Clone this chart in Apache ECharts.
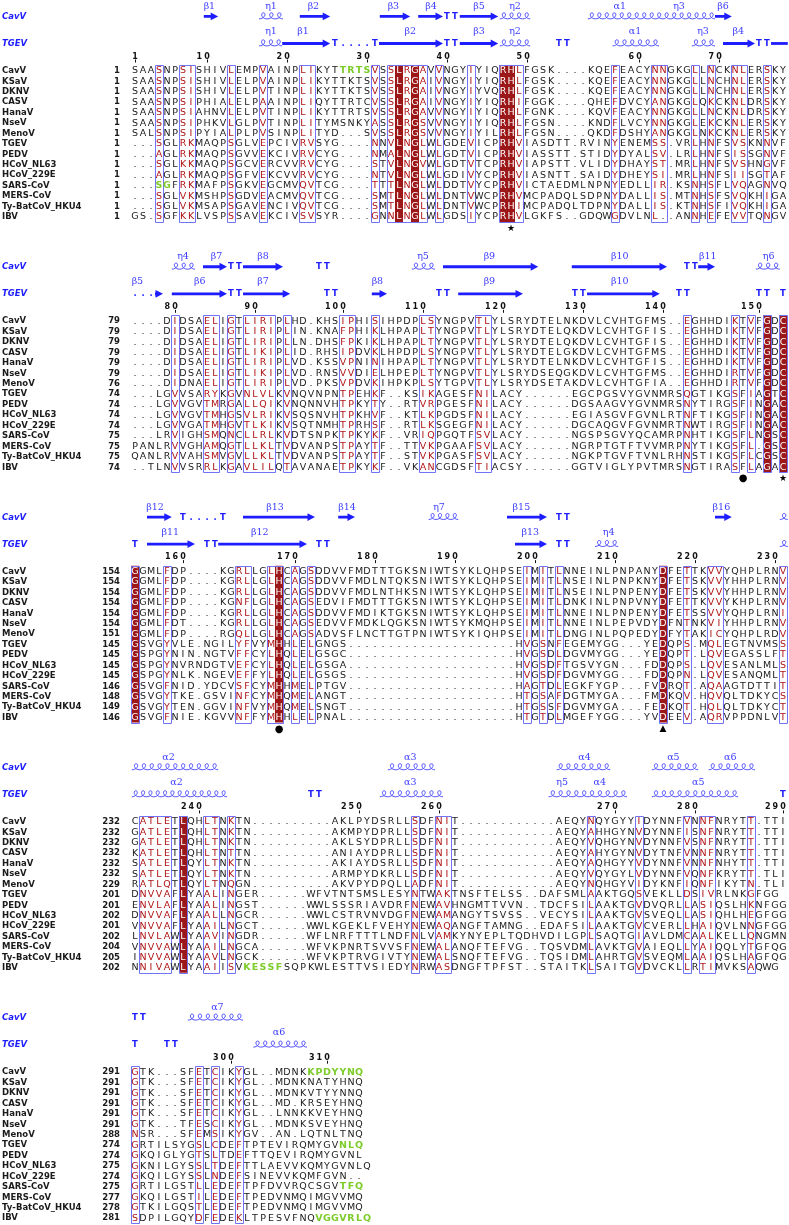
<!DOCTYPE html>
<html><head><meta charset="utf-8">
<script src="https://cdn.jsdelivr.net/npm/echarts@6/dist/echarts.min.js"></script>
<style>html,body{margin:0;padding:0;background:#fff}#c{width:789px;height:1225px}</style>
</head><body><div id="c"></div>
<script>
// ---------------- DATA ----------------
const seqNames = ["CavV","KSaV","DKNV","CASV","HanaV","NseV","MenoV","TGEV","PEDV","HCoV_NL63","HCoV_229E","SARS-CoV","MERS-CoV","Ty-BatCoV_HKU4","IBV"];

const block1Start = [1,1,1,1,1,1,1,1,1,1,1,1,1,1,1];
const block1Seq = [
"SAASNPSISHIVLEMPVAINPLIKYTTRTSVSSLRGAVVNGYIYIQRHLFGSK....KQEFEACYNNGKGLLNCKNLERSKY",
"SAASNPSISHIVLELPVAINPLIKYTTKTSVSSLRGAIVNGYIYIQRHLFGSK....KQEFEACYNNGKGLLNCHNLERSKY",
"SAASNPSISHIVLELPVTINPLIKYTTKTSVSSLRGAIVNGYIYVQRHLFGSK....KQEFEACYNNGKGLLNCHNLERSKY",
"SAASNPSIPHIALELPAAINPLIQYTTRTCVSSLRGAIVNGYIYIQRHIFGGK....QHEFDVCYANGKGLQKCKNLDRSKY",
"SAASNPSIAHNVLELPVTINPLIKYTTRTSVSSLRGAVVNGYIYIQRHLFGNK....KQVFEACYNNGKGLLNCKNLDRSKY",
"SAASNPSIPHKVLGLPVTINPLITYMSNKYASSLRGSVVNGYIYIQRHLFGSN....KNDFLVCYNNGKGLEKCKNLERSKY",
"SALSNPSIPYIALPLPVSINPLITYD...SVSSLRGSVVNGYIYILRHLFGSN....QKDFDSHYANGKGLNKCKNLERSKY",
"...SGLRKMAQPSGLVEPCIVRVSYG....NNVLNGLWLGDEVICPRHVIASDTT.RVINYENEMSS.VRLHNFSVSKNNVF",
"...AGLRKMAQPSGVVEKCIVRVCYG....NMALNGLWLGDTVICPRHVIASSTT.STIDYDYALSV.LRLHNFSISSGNVF",
"...SGLKKMAQPSGCVERCVVRVCYG....STVLNGVWLGDTVTCPRHVIAPSTT.VLIDYDHAYST.MRLHNFSVSHNGVF",
"...AGLRKMAQPSGFVEKCVVRVCYG....NTVLNGLWLGDIVYCPRHVIASNTT.SAIDYDHEYSI.MRLHNFSIISGTAF",
"...SGFRKMAFPSGKVEGCMVQVTCG....TTTLNGLWLDDTVYCPRHVICTAEDMLNPNYEDLLIR.KSNHSFLVQAGNVQ",
"...SGLVKMSHPSGDVEACMVQVTCG....SMTLNGLWLDNTVWCPRHVMCPADQLSDPNYDALLIS.MTNHSFSVQKHIGA",
"...SGLVKMSAPSGAVENCIVQVTCG....SMTLNGLWLDNTVWCPRHIMCPADQLTDPNYDALLIS.KTNHSFIVQKHIGA",
"GS.SGFKKLVSPSSAVEKCIVSVSYR....GNNLNGLWLGDSIYCPRHVLGKFS..GDQWGDVLNL..ANNHEFEVVTQNGV"
];
const block1Ident = [34,36,47,48];
const block1Boxes = [[4,4],[7,8],[13,13],[17,17],[22,23],[31,31],[33,37],[39,39],[43,43],[47,49],[61,61],[66,67],[71,71],[73,73],[76,77],[80,80]];
const block1Ruler = [[1,1],[10,10],[20,20],[30,30],[40,40],[50,50],[64,60],[74,70]];

const block2Start = [79,79,79,79,79,79,76,74,74,74,74,75,75,75,74];
const block2Seq = [
"....DIDSAELIGTLIRIPLHD.KHSIPHISIHPDPLSYNGPVTLYLSRYDTELNKDVLCVHTGFMS..EGHHDIKTVFGDC",
"....DIDSAELIGTLIRIPLIN.KNAFPHIKLHPAPLTYNGPVTLYLSRYDTELQKDVLCVHTGFIS..EGHHDIKTVFGDC",
"....DIDSAELIGTLIRIPLLN.DHSFPKIKLHPAPLTYNGPVTLYLSRYDTELQKDVLCVHTGFIS..EGHHDIKTVFGDC",
"....DIDSAELIGTLIKIPLID.RHSIPDVKLHPDPLSYNGPVTLYLSRYDTELGKDVLCVHTGFMS..EGHHDIKTVFGDC",
"....DIDSAELIGTLIRIPLVD.KSSVPNINIHPAPLTYNGPVTLYLSRYDTELNKDVLCVHTGFIS..EGHHDIKTVFGDC",
"....DIDSAELIGTLIKIPLVD.RNSVVDIELHPEPLTYNGPVTLYLSRYDSEQGKDVLCVHTGFMS..EGHHDIRTVFGDC",
"....DIDNAELIGTLIRIPLVD.PKSVPDVKIHPKPLSYTGPVTLYLSRYDSETAKDVLCVHTGFIA..EGHHDIRTVFGDC",
"...LGVVSARYKGVNLVLKVNQVNPNTPEHKF..KSIKAGESFNILACY......EGCPGSVYGVNMRSQGTIKGSFIAGTC",
"...LGVVGVTMRGALLQIKVNQNNVHTPKYTY..RTVRPGESFNILACY......DGSAAGVYGVNMRSNYTIRGSFINGAC",
"...LGVVGVTMHGSVLRIKVSQSNVHTPKHVF..KTLKPGDSFNILACY......EGIASGVFGVNLRTNFTIKGSFINGAC",
"...LGVVGATMHGVTLKIKVSQTNMHTPRHSF..RTLKSGEGFNILACY......DGCAQGVFGVNMRTNWTIRGSFINGAC",
"...LRVIGHSMQNCLLRLKVDTSNPKTPKYKF..VRIQPGQTFSVLACY......NGSPSGVYQCAMRPNHTIKGSFLNGSC",
"PANLRVVGHAMQGTLLKLTVDVANPSTPAYTF..TTVKPGAAFSVLACY......NGRPTGTFTVVMRPNYTIKGSFL.GSC",
"QANLRVVAHSMVGVLLKLTVDVANPSTPAYTF..STVKPGASFSVLACY......NGKPTGVFTVNLRHNSTIKGSFLCGSC",
"..TLNVVSRRLKGAVLILQTAVANAETPKYKF..VKANCGDSFTIACSY......GGTVIGLYPVTMRSNGTIRASFLAGAC"
];
const block2Ident = [80,82];
const block2Boxes = [[6,6],[10,11],[13,13],[15,18],[20,20],[27,28],[31,31],[37,38],[44,45],[70,70],[76,76],[78,78],[80,80],[82,82]];
const block2Ruler = [[6,80],[16,90],[27,100],[37,110],[47,120],[57,130],[67,140],[79,150]];

const block3Start = [154,154,154,154,154,154,151,145,145,145,145,146,148,149,146];
const block3Seq = [
"GGMLFDP....KGRLLGLHCAGSDDVVFMDTTTGKSNIWTSYKLQHPSEIMITLNNEINLPNPANYDFETTKVVYQHPLRNV",
"GGMLFDP....KGRLLGLHCAGSDDVVFMDLNTQKSNIWTSYKLQHPSEIMITLNSEINLPNPKNYDFETSKVVYHHPLRNV",
"GGMLFDP....KGRLLGLHCAGSDDVVFMDLNTHKSNIWTSYKLQHPSEIMITLNSEINLPNPENYDFETSKVVYHHPLRNV",
"GGMLFDP....KGNFLGLHCAGSEDVIFMDTTTGKSNIWTSYKLQHPSEIMITLDNKINLPNPVNYDFETTKVVYKHPLRNV",
"GGMLFDP....KGRLLGLHCAGSDDVVFMDIKTGKSNIWTSYKLQHPSEIMITLNNEINLPNPENYDFETSSVVYQHPLRNI",
"GGMLFDT....KGRLLGLHCAGSEDVVFMDKLQGKSNIWTSYKMQHPSEIMITLNNEINLPEPVDYDFNTNKVIYHHPLRNV",
"GGMLFDP....RGQLLGLHCAGSADVSFLNCTTGTPNIWTSYKIQHPSEIMITLDNGINLPQPEDYDFYTAKICYQHPLRDV",
"GSVGYVLE.NGILYFVYMHHLELGNGS.....................HVGSNFEGEMYGG...YEDQPS.MQLEGTNVMSS",
"GSPGYNIN.NGTVFFCYLHQLELGSGC.....................HVGSDLDGVMYGG...YEDQPT.LQVEGASSLFT",
"GSPGYNVRNDGTVEFCYLHQLELGSGA.....................HVGSDFTGSVYGN...FDDQPS.LQVESANLMLS",
"GSPGYNLK.NGEVEFFYLHQLELGSGS.....................HVGSDFDGVMYGG...FDDQPN.LQVESANQMLT",
"GSVGFNID.YDCVSFCYMHHMELPTGV.....................HAGTDLEGKFYGP...FVDRQT.AQAAGTDTTIT",
"GSVGYTKE.GSVINFCYMHQMELANGT.....................HTGSAFDGTMYGA...FMDKQV.HQVQLTDKYCS",
"GSVGYTEN.GGVINFVYMHQMELSNGT.....................HTGSSFDGVMYGA...FEDKQT.HQLQLTDKYCT",
"GSVGFNIE.KGVVNFFYMHHLELPNAL.....................HTGTDLMGEFYGG...YVDEEV.AQRVPPDNLVT"
];
const block3Ident = [1,19,67];
const block3Boxes = [[1,1],[5,5],[14,15],[18,19],[21,21],[23,23],[50,50],[52,52],[54,54],[67,67],[70,70],[73,74],[82,82]];
const block3Ruler = [[7,160],[21,170],[31,180],[41,190],[51,200],[61,210],[71,220],[81,230]];

const block4Start = [232,232,232,232,232,232,229,201,201,202,201,202,204,205,202];
const block4Seq = [
"CATLETLQHLTNKTN..........AKLPYDSRLLSDFNIT............AEQYNQYGYYIDYNNFVNNFNRYTT.TTI",
"GATLETLQHLTNKTN..........AKMPYDPRLLSDFNIT............AEQYAHHGYNVDYNNFISNFNRYTT.TTI",
"GATLETLQHLTNKTN..........AKLSYDPRLLSDFNIT............AEQYVQHGYNVDYNNFVSNFNRYTT.TTI",
"KATLETLQHLTNTTN..........ANIAYDPRLLSDFNIT............AEQYAHYGYNVDYTNFVNNFNRYTT.TTI",
"SATLETLQYLTNKTN..........AKIAYDSRLLSDFNIT............AEQYAQHGYYVDYNNFVNNFNHYTT.TTI",
"SATLETLQYLTNKTN..........ARMPYDKRLLSDFNIT............AEQYVQYGYLVDYNNFVQNFKRYTT.TLI",
"RATLQTLQYLTNQGN..........AKVPYDPQLLADFNIT............AEQYNQHGYVIDYKNFIQNFIKYTN.TLI",
"DNVVAFLYAALINGER......WFVTNTSMSLESYNTWAKTNSFTELSS..DAFSMLAAKTGQSVEKLLDSIVRLNKGFGG",
"ENVLAFLYAALINGST......WWLSSSRIAVDRFNEWAVHNGMTTVVN..TDCFSILAAKTGVDVQRLLASIQSLHKNFGG",
"DNVVAFLYAALLNGCR......WWLCSTRVNVDGFNEWAMANGYTSVSS..VECYSILAAKTGVSVEQLLASIQHLHEGFGG",
"VNVVAFLYAAILNGCT......WWLKGEKLFVEHYNEWAQANGFTAMNG..EDAFSILAAKTGVCVERLLHAIQVLNNGFGG",
"LNVLAWLYAAVINGDR......WFLNRFTTTLNDFNLVAMKYNYEPLTQDHVDILGPLSAQTGIAVLDMCAALKELLQNGMN",
"VNVVAWLYAAILNGCA......WFVKPNRTSVVSFNEWALANQFTEFVG..TQSVDMLAVKTGVAIEQLLYAIQQLYTGFQG",
"INVVAWLYAAVLNGCK......WFVKPTRVGIVTYNEWALSNQFTEFVG..TQSIDMLAHRTGVSVEQMLAAIQSLHAGFQG",
"NNIVAWLYAAIISVKESSFSQPKWLESTTVSIEDYNRWASDNGFTPFST..STAITKLSAITGVDVCKLLRTIMVKSAQWG"
];
const block4Ident = [7];
const block4Boxes = [[2,5],[7,7],[10,11],[13,13],[36,36],[39,40],[58,58],[64,64],[70,70],[72,73],[78,78]];
const block4Ruler = [[9,240],[29,250],[39,260],[61,270],[71,280],[82,290]];

const block5Start = [291,291,291,291,291,291,288,274,274,275,274,275,277,278,281];
const block5Seq = [
"GTK...SFETCIKYGL..MDNKKPDYYNQ",
"GTK...SFETCIKYGL..MDNKNATYHNQ",
"GTK...SFETCIKYGL..MDNKVTYYNNQ",
"GTK...SFETCIKYGL..MD.KRSEYHNQ",
"GTK...SFETCIKYGL..LNNKKVEYHNQ",
"GTK...TFESCIKYGL..MDNKSVEYHNQ",
"NSR...SFEMSIKYGV..AN.LQTNLTNQ",
"GRTILSYGSLCDEFTPTEVIRQMYGVNLQ",
"GKQIGLYGTSLTDEFTTQEVIRQMYGVNL",
"GKNILGYSSLTDEFTTLAEVVKQMYGVNLQ",
"GKQILGYSSLNDEFSINEVVKQMFGVN..",
"GRTILGSTLLEDEFTPFDVVRQCSGVTFQ",
"GKQILGSTILEDEFTPEDVNMQIMGVVMQ",
"GTKILGQSTLEDEFTPEDVNMQIMGVVMQ",
"SDPILGQYDFEDEKLTPESVFNQVGGVRLQ"
];
const block5Ident = [];
const block5Boxes = [[1,1],[9,9],[11,11],[14,14]];
const block5Ruler = [[13,300],[25,310]];

// green residues: [block, row, firstCol, lastCol]
const greenRuns = [[0,0,27,30],[0,11,4,5],[3,14,15,19],[4,0,23,29],[4,7,27,29],[4,11,27,29],[4,14,24,30]];

// secondary structure (line 0 = CavV, line 1 = TGEV), positions in alignment columns
const ssArrows = [
 [0,0,9.6,11.4,1],[0,0,21.6,25.4,1],[0,0,31.6,35.4,1],[0,0,36.4,39.5,1],[0,0,41.6,46.4,1],[0,0,73.5,75.6,1],
 [0,1,19.4,25.4,1],[0,1,31.5,39.5,1],[0,1,41.6,46.4,1],[0,1,74.5,78.5,1],[0,1,80.5,82.6,0],
 [1,0,9.5,12.5,1],[1,0,14.5,19.5,1],[1,0,39.5,51.4,1],[1,0,55.6,67.5,1],[1,0,71.4,73.5,1],
 [1,1,3.5,4.5,1],[1,1,5.6,12.5,1],[1,1,14.5,20.4,1],[1,1,30.6,32.5,1],[1,1,41.4,49.5,1],[1,1,57.5,66.6,1],
 [2,0,2.5,5.6,1],[2,0,14.5,23.5,1],[2,0,26.4,28.5,1],[2,0,47.5,52.5,1],[2,0,73.5,75.6,1],
 [2,1,2.5,8.5,1],[2,1,11.4,22.5,1],[2,1,48.5,52.5,1]
];
const ssCoils = [
 [0,0,16.5,19.5],[0,0,46.6,50.4],[0,0,57.6,73.5],
 [0,1,16.5,19.4],[0,1,46.6,50.4],[0,1,60.7,66.5],[0,1,70.6,73.5],
 [1,0,5.6,8.5],[1,0,35.6,38.5],[1,0,78.6,81.6],
 [2,0,37.7,41.4],[2,0,81.6,82.6],[2,1,58.5,61.4],[2,1,81.6,82.6],
 [3,0,0.6,11.4],[3,0,32.6,38.5],[3,0,53.7,60.4],[3,0,65.6,71.4],[3,0,72.7,78.5],
 [3,1,0.6,12.5],[3,1,31.6,39.5],[3,1,52.7,62.5],[3,1,65.6,76.4],
 [4,0,7.6,14.5],[4,1,15.8,22.5]
];
const ssTurns = [
 [0,0,40,"T"],[0,0,41,"T"],
 [0,1,26,"T"],[0,1,27,"."],[0,1,28,"."],[0,1,29,"."],[0,1,30,"."],[0,1,31,"T"],[0,1,40,"T"],[0,1,41,"T"],[0,1,54,"T"],[0,1,55,"T"],[0,1,79,"T"],[0,1,80,"T"],
 [1,0,13,"T"],[1,0,14,"T"],[1,0,24,"T"],[1,0,25,"T"],[1,0,70,"T"],[1,0,71,"T"],
 [1,1,1,"."],[1,1,2,"."],[1,1,3,"."],[1,1,13,"T"],[1,1,14,"T"],[1,1,25,"T"],[1,1,26,"T"],[1,1,39,"T"],[1,1,40,"T"],[1,1,56,"T"],[1,1,57,"T"],[1,1,69,"T"],[1,1,70,"T"],[1,1,79,"T"],[1,1,80,"T"],[1,1,82,"T"],
 [2,0,7,"T"],[2,0,8,"."],[2,0,9,"."],[2,0,10,"."],[2,0,11,"."],[2,0,12,"T"],[2,0,54,"T"],[2,0,55,"T"],
 [2,1,1,"T"],[2,1,10,"T"],[2,1,11,"T"],[2,1,24,"T"],[2,1,25,"T"],[2,1,54,"T"],[2,1,55,"T"],
 [3,1,23,"T"],[3,1,24,"T"],[3,1,82,"T"],
 [4,0,1,"T"],[4,0,2,"T"],[4,1,1,"T"],[4,1,5,"T"],[4,1,6,"T"]
];
const ssLabels = [
 [0,0,10.3,"β1"],[0,0,18,"η1"],[0,0,23.3,"β2"],[0,0,33.3,"β3"],[0,0,38,"β4"],[0,0,44,"β5"],[0,0,48.5,"η2"],[0,0,61.6,"α1"],[0,0,69,"η3"],[0,0,74.5,"β6"],
 [0,1,18,"η1"],[0,1,22,"β1"],[0,1,35.4,"β2"],[0,1,44,"β3"],[0,1,48.5,"η2"],[0,1,63.5,"α1"],[0,1,72,"η3"],[0,1,76.4,"β4"],
 [1,0,7,"η4"],[1,0,11.2,"β7"],[1,0,17,"β8"],[1,0,37,"η5"],[1,0,45.3,"β9"],[1,0,61.6,"β10"],[1,0,72.6,"β11"],[1,0,80.2,"η6"],
 [1,1,1.3,"β5"],[1,1,9.1,"β6"],[1,1,17,"β7"],[1,1,31.3,"β8"],[1,1,45.3,"β9"],[1,1,61.6,"β10"],
 [2,0,3.5,"β12"],[2,0,18.5,"β13"],[2,0,27.5,"β14"],[2,0,39,"η7"],[2,0,49.3,"β15"],[2,0,74.3,"β16"],
 [2,1,5.4,"β11"],[2,1,16.6,"β12"],[2,1,50.4,"β13"],[2,1,60.2,"η4"],
 [3,0,5.2,"α2"],[3,0,35.4,"α3"],[3,0,57.2,"α4"],[3,0,68.3,"α5"],[3,0,75.4,"α6"],
 [3,1,6.2,"α2"],[3,1,35.4,"α3"],[3,1,54.4,"η5"],[3,1,59.1,"α4"],[3,1,71.4,"α5"],
 [4,0,11.3,"α7"],[4,1,19,"α6"]
];
const ssNames = ["CavV","TGEV"];
// marks under blocks: [block, col, symbol]
const marks = [[0,48,"★"],[1,77,"●"],[1,82,"★"],[2,19,"●"],[2,67,"▲"]];

// ---------------- LAYOUT / STYLE ----------------
const blocks = [
 {seq:block1Seq, start:block1Start, ident:block1Ident, boxes:block1Boxes, ruler:block1Ruler},
 {seq:block2Seq, start:block2Start, ident:block2Ident, boxes:block2Boxes, ruler:block2Ruler},
 {seq:block3Seq, start:block3Start, ident:block3Ident, boxes:block3Boxes, ruler:block3Ruler},
 {seq:block4Seq, start:block4Start, ident:block4Ident, boxes:block4Boxes, ruler:block4Ruler},
 {seq:block5Seq, start:block5Start, ident:block5Ident, boxes:block5Boxes, ruler:block5Ruler}
];
const ROWS_PER_BLOCK = 24;
const Y = {cavvLine:-5.18, cavvLabel:-6.14, tgevLine:-2.59, tgevLabel:-3.74, ruler:-1.34, marks:15.15};
const gy = (b, r) => b*ROWS_PER_BLOCK + r;
const NAME_COL = -15.62, NUM_COL = -0.88;
const COL = {black:'#1a1a1a', red:'#b01414', white:'#ffffff', green:'#7dcc2a', fill:'#9c1717', box:'#7272f4', ss:'#1d1dff', ssLabel:'#3c3cff'};
const FONT_SEQ = '9.5px "DejaVu Sans"';
const FONT_NAME = 'bold 8.5px "DejaVu Sans"';

const fillData=[], boxData=[], letterData=[], letterInfo=[], nameData=[], nameInfo=[], rulerData=[], rulerInfo=[];
blocks.forEach((bk,b)=>{
  bk.ident.forEach(c=>fillData.push([c, gy(b,0)]));
  bk.boxes.forEach(bx=>boxData.push([bx[0], gy(b,0), bx[1]]));
  bk.seq.forEach((s,r)=>{
    for(let i=0;i<s.length;i++){
      const ch=s[i], c=i+1;
      let t='black';
      if(ch!=='.'){
        if(bk.ident.includes(c)) t='white';
        else if(bk.boxes.some(bx=>c>=bx[0]&&c<=bx[1])) t='red';
        if(greenRuns.some(g=>g[0]===b&&g[1]===r&&c>=g[2]&&c<=g[3])) t='green';
      }
      letterData.push([c, gy(b,r)]); letterInfo.push([ch,t]);
    }
    nameData.push([NAME_COL, gy(b,r)]); nameInfo.push([seqNames[r],'left',COL.black,FONT_NAME]);
    nameData.push([NUM_COL, gy(b,r)]); nameInfo.push([String(bk.start[r]),'right',COL.black,FONT_NAME]);
  });
  nameData.push([NAME_COL, gy(b,Y.cavvLine)]); nameInfo.push([ssNames[0],'left',COL.ss,'italic bold 8.5px "DejaVu Sans"']);
  nameData.push([NAME_COL, gy(b,Y.tgevLine)]); nameInfo.push([ssNames[1],'left',COL.ss,'italic bold 8.5px "DejaVu Sans"']);
  bk.ruler.forEach(([c,n])=>{ rulerData.push([c, gy(b,Y.ruler)]); rulerInfo.push(String(n)); });
});
const ssLineY = (b,l)=>gy(b, l===0?Y.cavvLine:Y.tgevLine);
const ssLabelY = (b,l)=>gy(b, l===0?Y.cavvLabel:Y.tgevLabel);

function custom(data, renderItem){
  return {type:'custom', coordinateSystem:'cartesian2d', data, renderItem, clip:false, silent:true, animation:false, encode:{x:0,y:1}};
}
function txt(x,y,text,fill,font,align){
  return {type:'text', x, y, style:{text, fill, font, align:align||'center', verticalAlign:'middle', textAlign:align||'center', textVerticalAlign:'middle'}};
}

const series = [];
series.push(custom(fillData,(p,api)=>{
  const c=api.value(0), y0=api.value(1);
  const a=api.coord([c-0.5,y0-0.52]), d=api.coord([c+0.5,y0+14.52]);
  return {type:'rect', shape:{x:a[0],y:a[1],width:d[0]-a[0],height:d[1]-a[1]}, style:{fill:COL.fill}};
}));
series.push(custom(boxData,(p,api)=>{
  const c1=api.value(0), y0=api.value(1), c2=api.value(2);
  const a=api.coord([c1-0.5,y0-0.52]), d=api.coord([c2+0.5,y0+14.52]);
  return {type:'rect', shape:{x:Math.round(a[0])+0.5,y:Math.round(a[1])+0.5,width:Math.round(d[0]-a[0]),height:Math.round(d[1]-a[1])}, style:{fill:null, stroke:COL.box, lineWidth:1}};
}));
series.push(custom(letterData,(p,api)=>{
  const pt=api.coord([api.value(0),api.value(1)]);
  const [ch,t]=letterInfo[p.dataIndex];
  const font = t==='green' ? 'bold 9.5px "DejaVu Sans"' : FONT_SEQ;
  return txt(pt[0],pt[1]+0.5,ch,COL[t],font);
}));
series.push(custom(nameData,(p,api)=>{
  const pt=api.coord([api.value(0),api.value(1)]);
  const [s,al,fill,font]=nameInfo[p.dataIndex];
  return txt(pt[0],pt[1]+0.5,s,fill,font,al);
}));
series.push(custom(rulerData,(p,api)=>{
  const c=api.value(0), y=api.value(1);
  const s=rulerInfo[p.dataIndex];
  const children=[];
  for(let k=0;k<s.length;k++){
    const pt=api.coord([c-k*0.95,y]);
    children.push(txt(pt[0],pt[1],s[s.length-1-k],'#111','bold 8px "DejaVu Sans"'));
  }
  const a=api.coord([c,y]);
  children.push({type:'line', shape:{x1:a[0]+0.5,y1:a[1]+3,x2:a[0]+0.5,y2:a[1]+6}, style:{stroke:'#111',lineWidth:1}});
  return {type:'group', children};
}));
series.push(custom(ssArrows.map(a=>[a[2], ssLineY(a[0],a[1]), a[3], a[4]]),(p,api)=>{
  const c1=api.value(0), y=api.value(1), c2=api.value(2), head=api.value(3);
  const a=api.coord([c1,y]), d=api.coord([c2,y]);
  const yy=a[1], x1=a[0], x2=d[0];
  if(!head) return {type:'rect', shape:{x:x1,y:yy-1.4,width:x2-x1,height:2.8}, style:{fill:COL.ss}};
  const xh=Math.max(x1, x2-7.5);
  return {type:'polygon', shape:{points:[[x1,yy-1.4],[xh,yy-1.4],[xh,yy-3.9],[x2,yy],[xh,yy+3.9],[xh,yy+1.4],[x1,yy+1.4]]}, style:{fill:COL.ss}};
}));
series.push(custom(ssCoils.map(a=>[a[2], ssLineY(a[0],a[1]), a[3]]),(p,api)=>{
  const c1=api.value(0), y=api.value(1), c2=api.value(2);
  const a=api.coord([c1,y]), d=api.coord([c2,y]);
  const w=d[0]-a[0], n=Math.max(1,Math.round(w/7.6)), lw=w/n;
  const yb=a[1]+2.4, yt=a[1]-3.6, children=[];
  for(let i=0;i<n;i++){
    const x0=a[0]+i*lw;
    children.push({type:'bezierCurve', shape:{x1:x0,y1:yb,cpx1:x0+lw*0.75,cpy1:yb,cpx2:x0+lw*0.95,cpy2:yt,x2:x0+lw*0.55,y2:yt}, style:{fill:null,stroke:COL.ssLabel,lineWidth:0.9}});
    children.push({type:'bezierCurve', shape:{x1:x0+lw*0.55,y1:yt,cpx1:x0+lw*0.15,cpy1:yt,cpx2:x0+lw*0.3,cpy2:yb,x2:x0+lw,y2:yb}, style:{fill:null,stroke:COL.ssLabel,lineWidth:0.9}});
  }
  return {type:'group', children};
}));
series.push(custom(ssTurns.map(t=>[t[2], ssLineY(t[0],t[1])]),(p,api)=>{
  const pt=api.coord([api.value(0),api.value(1)]);
  return txt(pt[0],pt[1]+0.5,ssTurns[p.dataIndex][3],COL.ss,'bold 8.5px "DejaVu Sans"');
}));
series.push(custom(ssLabels.map(t=>[t[2], ssLabelY(t[0],t[1])]),(p,api)=>{
  const pt=api.coord([api.value(0),api.value(1)]);
  return txt(pt[0],pt[1],ssLabels[p.dataIndex][3],COL.ssLabel,'9.5px "DejaVu Serif"');
}));
series.push(custom(marks.map(m=>[m[1], gy(m[0],Y.marks)]),(p,api)=>{
  const pt=api.coord([api.value(0),api.value(1)]);
  const s=marks[p.dataIndex][2];
  return txt(pt[0],pt[1],s,'#000', s==='●'?'10px "DejaVu Sans"':'9px "DejaVu Sans"');
}));

const chart = echarts.init(document.getElementById('c'), null, {renderer:'canvas', width:789, height:1225});
chart.setOption({
  animation:false,
  backgroundColor:'#ffffff',
  grid:{left:0, top:2.7, width:789, height:1222.4, containLabel:false},
  xAxis:{type:'value', min:-15.875, max:82.75, show:false},
  yAxis:{type:'value', min:-6.5, max:110.7, inverse:true, show:false},
  series
});
</script></body></html>
